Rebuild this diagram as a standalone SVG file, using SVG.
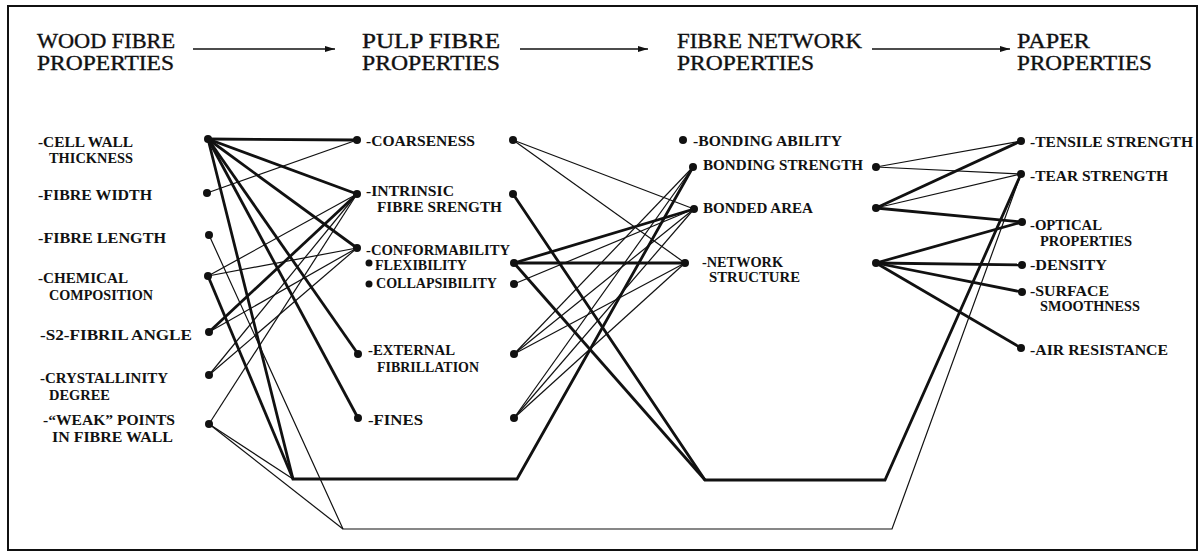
<svg xmlns="http://www.w3.org/2000/svg" width="1203" height="554" viewBox="0 0 1203 554">
  <defs>
    <style>
      .frame { fill: none; stroke: #111; stroke-width: 2; }
      .head { font-family: "Liberation Serif", "DejaVu Serif", serif; font-size: 20px; fill: #111; stroke: #111; stroke-width: 0.35; }
      .lbl { font-family: "Liberation Serif", "DejaVu Serif", serif; font-size: 14.5px; font-weight: bold; fill: #111; }
      .dot { fill: #111; }
      .thick { fill: none; stroke: #111; stroke-width: 2.8; stroke-linejoin: miter; }
      .thin { fill: none; stroke: #111; stroke-width: 1.2; }
      .flow { fill: none; stroke: #111; stroke-width: 1.5; }
    </style>
    <marker id="arrow" viewBox="0 0 10 6" refX="10" refY="3" markerWidth="10" markerHeight="6" markerUnits="userSpaceOnUse" orient="auto">
      <path d="M0,0 L10,3 L0,6 Z" fill="#111"/>
    </marker>
  </defs>

  <rect width="1203" height="554" fill="#fff"/>
  <rect class="frame" x="8" y="6" width="1189" height="544"/>

  <!-- column headings and the flow arrows between them -->
  <g id="headings">
    <text class="head" x="37" y="48" textLength="138" lengthAdjust="spacingAndGlyphs">WOOD FIBRE</text>
    <text class="head" x="37" y="70" textLength="137" lengthAdjust="spacingAndGlyphs">PROPERTIES</text>
    <text class="head" x="362" y="48" textLength="138" lengthAdjust="spacingAndGlyphs">PULP FIBRE</text>
    <text class="head" x="362" y="70" textLength="138" lengthAdjust="spacingAndGlyphs">PROPERTIES</text>
    <text class="head" x="677" y="48" textLength="185" lengthAdjust="spacingAndGlyphs">FIBRE NETWORK</text>
    <text class="head" x="677" y="70" textLength="137" lengthAdjust="spacingAndGlyphs">PROPERTIES</text>
    <text class="head" x="1017" y="48" textLength="73" lengthAdjust="spacingAndGlyphs">PAPER</text>
    <text class="head" x="1017" y="70" textLength="135" lengthAdjust="spacingAndGlyphs">PROPERTIES</text>
  </g>
  <g id="flow-arrows">
    <line class="flow" x1="193" y1="49" x2="335" y2="49" marker-end="url(#arrow)"/>
    <line class="flow" x1="520" y1="49" x2="648" y2="49" marker-end="url(#arrow)"/>
    <line class="flow" x1="872" y1="49" x2="1010" y2="49" marker-end="url(#arrow)"/>
  </g>

  <!-- connectors -->
  <g id="connectors">
    <!-- wood fibre -> pulp fibre -->
    <line class="thick" x1="208" y1="139" x2="357" y2="140"/>
    <line class="thick" x1="208" y1="139" x2="357" y2="194"/>
    <line class="thick" x1="208" y1="139" x2="357" y2="248"/>
    <line class="thick" x1="208" y1="139" x2="358" y2="354"/>
    <line class="thick" x1="208" y1="139" x2="358" y2="418"/>
    <line class="thick" x1="209" y1="332" x2="357" y2="194"/>
    <line class="thin" x1="207" y1="193" x2="357" y2="140"/>
    <line class="thin" x1="208" y1="276" x2="357" y2="194"/>
    <line class="thin" x1="208" y1="276" x2="357" y2="248"/>
    <line class="thin" x1="209" y1="332" x2="357" y2="248"/>
    <line class="thin" x1="209" y1="375" x2="357" y2="194"/>
    <line class="thin" x1="209" y1="375" x2="357" y2="248"/>
    <line class="thin" x1="209" y1="424" x2="357" y2="194"/>

    <!-- long routes along the bottom -->
    <polyline class="thick" points="208,139 293,479 517,479 693,167"/>
    <line class="thick" x1="208" y1="276" x2="293" y2="479"/>
    <line class="thin" x1="209" y1="424" x2="293" y2="479"/>
    <polyline class="thick" points="513,194 705,480 885,480 1021,174"/>
    <line class="thick" x1="514" y1="263" x2="705" y2="480"/>
    <polyline class="thin" points="209,235 343,529 892,529 1021,174"/>
    <line class="thin" x1="209" y1="424" x2="343" y2="529"/>

    <!-- pulp fibre -> fibre network -->
    <line class="thin" x1="513" y1="140" x2="694" y2="209"/>
    <line class="thin" x1="513" y1="140" x2="685" y2="263"/>
    <line class="thick" x1="514" y1="263" x2="694" y2="209"/>
    <line class="thick" x1="514" y1="263" x2="685" y2="263"/>
    <line class="thin" x1="514" y1="284" x2="694" y2="209"/>
    <line class="thin" x1="514" y1="354" x2="693" y2="167"/>
    <line class="thin" x1="514" y1="354" x2="694" y2="209"/>
    <line class="thin" x1="514" y1="354" x2="685" y2="263"/>
    <line class="thin" x1="514" y1="418" x2="693" y2="167"/>
    <line class="thin" x1="514" y1="418" x2="694" y2="209"/>
    <line class="thin" x1="514" y1="418" x2="685" y2="263"/>

    <!-- fibre network -> paper -->
    <line class="thin" x1="876" y1="167" x2="1021" y2="141"/>
    <line class="thin" x1="876" y1="167" x2="1021" y2="174"/>
    <line class="thick" x1="876" y1="208" x2="1021" y2="141"/>
    <line class="thin" x1="876" y1="208" x2="1021" y2="174"/>
    <line class="thick" x1="876" y1="208" x2="1022" y2="222"/>
    <line class="thick" x1="876" y1="263" x2="1022" y2="222"/>
    <line class="thick" x1="876" y1="263" x2="1022" y2="265"/>
    <line class="thick" x1="876" y1="263" x2="1022" y2="292"/>
    <line class="thick" x1="876" y1="263" x2="1021" y2="348"/>
  </g>

  <!-- wood fibre properties -->
  <g id="cell-wall-thickness">
    <circle class="dot" cx="208" cy="139" r="4"/>
    <text class="lbl" x="38" y="147" textLength="95" lengthAdjust="spacingAndGlyphs">-CELL WALL</text>
    <text class="lbl" x="49" y="163" textLength="84" lengthAdjust="spacingAndGlyphs">THICKNESS</text>
  </g>
  <g id="fibre-width">
    <circle class="dot" cx="207" cy="193" r="4"/>
    <text class="lbl" x="38" y="200" textLength="114" lengthAdjust="spacingAndGlyphs">-FIBRE WIDTH</text>
  </g>
  <g id="fibre-length">
    <circle class="dot" cx="209" cy="235" r="4"/>
    <text class="lbl" x="38" y="243" textLength="128" lengthAdjust="spacingAndGlyphs">-FIBRE LENGTH</text>
  </g>
  <g id="chemical-composition">
    <circle class="dot" cx="208" cy="276" r="4"/>
    <text class="lbl" x="38" y="283" textLength="90" lengthAdjust="spacingAndGlyphs">-CHEMICAL</text>
    <text class="lbl" x="49" y="300" textLength="104" lengthAdjust="spacingAndGlyphs">COMPOSITION</text>
  </g>
  <g id="s2-fibril-angle">
    <circle class="dot" cx="209" cy="332" r="4"/>
    <text class="lbl" x="40" y="340" textLength="152" lengthAdjust="spacingAndGlyphs">-S2-FIBRIL ANGLE</text>
  </g>
  <g id="crystallinity-degree">
    <circle class="dot" cx="209" cy="375" r="4"/>
    <text class="lbl" x="40" y="383" textLength="128" lengthAdjust="spacingAndGlyphs">-CRYSTALLINITY</text>
    <text class="lbl" x="49" y="400" textLength="61" lengthAdjust="spacingAndGlyphs">DEGREE</text>
  </g>
  <g id="weak-points">
    <circle class="dot" cx="209" cy="424" r="4"/>
    <text class="lbl" x="43" y="425" textLength="132" lengthAdjust="spacingAndGlyphs">-“WEAK” POINTS</text>
    <text class="lbl" x="52" y="442" textLength="121" lengthAdjust="spacingAndGlyphs">IN FIBRE WALL</text>
  </g>

  <!-- pulp fibre properties -->
  <g id="coarseness">
    <circle class="dot" cx="357" cy="140" r="4"/>
    <circle class="dot" cx="513" cy="140" r="4"/>
    <text class="lbl" x="366" y="146" textLength="109" lengthAdjust="spacingAndGlyphs">-COARSENESS</text>
  </g>
  <g id="intrinsic-fibre-strength">
    <circle class="dot" cx="357" cy="194" r="4"/>
    <circle class="dot" cx="513" cy="194" r="4"/>
    <text class="lbl" x="366" y="196" textLength="88" lengthAdjust="spacingAndGlyphs">-INTRINSIC</text>
    <text class="lbl" x="377" y="212" textLength="125" lengthAdjust="spacingAndGlyphs">FIBRE SRENGTH</text>
  </g>
  <g id="conformability">
    <circle class="dot" cx="357" cy="248" r="4"/>
    <text class="lbl" x="366" y="255" textLength="144" lengthAdjust="spacingAndGlyphs">-CONFORMABILITY</text>
  </g>
  <g id="flexibility">
    <circle class="dot" cx="369" cy="263" r="3.5"/>
    <circle class="dot" cx="514" cy="263" r="4"/>
    <text class="lbl" x="375" y="270" textLength="92" lengthAdjust="spacingAndGlyphs">FLEXIBILITY</text>
  </g>
  <g id="collapsibility">
    <circle class="dot" cx="369" cy="284" r="3.5"/>
    <circle class="dot" cx="514" cy="284" r="4"/>
    <text class="lbl" x="376" y="288" textLength="121" lengthAdjust="spacingAndGlyphs">COLLAPSIBILITY</text>
  </g>
  <g id="external-fibrillation">
    <circle class="dot" cx="358" cy="354" r="4"/>
    <circle class="dot" cx="514" cy="354" r="4"/>
    <text class="lbl" x="368" y="355" textLength="87" lengthAdjust="spacingAndGlyphs">-EXTERNAL</text>
    <text class="lbl" x="377" y="372" textLength="102" lengthAdjust="spacingAndGlyphs">FIBRILLATION</text>
  </g>
  <g id="fines">
    <circle class="dot" cx="358" cy="418" r="4"/>
    <circle class="dot" cx="514" cy="418" r="4"/>
    <text class="lbl" x="368" y="425" textLength="55" lengthAdjust="spacingAndGlyphs">-FINES</text>
  </g>

  <!-- fibre network properties -->
  <g id="bonding-ability">
    <circle class="dot" cx="683" cy="140" r="4"/>
    <text class="lbl" x="693" y="146" textLength="149" lengthAdjust="spacingAndGlyphs">-BONDING ABILITY</text>
  </g>
  <g id="bonding-strength">
    <circle class="dot" cx="693" cy="167" r="4"/>
    <circle class="dot" cx="876" cy="167" r="4"/>
    <text class="lbl" x="703" y="170" textLength="160" lengthAdjust="spacingAndGlyphs">BONDING STRENGTH</text>
  </g>
  <g id="bonded-area">
    <circle class="dot" cx="694" cy="209" r="4"/>
    <circle class="dot" cx="876" cy="208" r="4"/>
    <text class="lbl" x="703" y="213" textLength="110" lengthAdjust="spacingAndGlyphs">BONDED AREA</text>
  </g>
  <g id="network-structure">
    <circle class="dot" cx="685" cy="263" r="4"/>
    <circle class="dot" cx="876" cy="263" r="4"/>
    <text class="lbl" x="702" y="267" textLength="81" lengthAdjust="spacingAndGlyphs">-NETWORK</text>
    <text class="lbl" x="709" y="282" textLength="91" lengthAdjust="spacingAndGlyphs">STRUCTURE</text>
  </g>

  <!-- paper properties -->
  <g id="tensile-strength">
    <circle class="dot" cx="1021" cy="141" r="4"/>
    <text class="lbl" x="1030" y="147" textLength="163" lengthAdjust="spacingAndGlyphs">-TENSILE STRENGTH</text>
  </g>
  <g id="tear-strength">
    <circle class="dot" cx="1021" cy="174" r="4"/>
    <text class="lbl" x="1030" y="181" textLength="138" lengthAdjust="spacingAndGlyphs">-TEAR STRENGTH</text>
  </g>
  <g id="optical-properties">
    <circle class="dot" cx="1022" cy="222" r="4"/>
    <text class="lbl" x="1030" y="230" textLength="72" lengthAdjust="spacingAndGlyphs">-OPTICAL</text>
    <text class="lbl" x="1040" y="246" textLength="92" lengthAdjust="spacingAndGlyphs">PROPERTIES</text>
  </g>
  <g id="density">
    <circle class="dot" cx="1022" cy="265" r="4"/>
    <text class="lbl" x="1030" y="270" textLength="77" lengthAdjust="spacingAndGlyphs">-DENSITY</text>
  </g>
  <g id="surface-smoothness">
    <circle class="dot" cx="1022" cy="292" r="4"/>
    <text class="lbl" x="1030" y="296" textLength="79" lengthAdjust="spacingAndGlyphs">-SURFACE</text>
    <text class="lbl" x="1040" y="311" textLength="100" lengthAdjust="spacingAndGlyphs">SMOOTHNESS</text>
  </g>
  <g id="air-resistance">
    <circle class="dot" cx="1021" cy="348" r="4"/>
    <text class="lbl" x="1030" y="355" textLength="138" lengthAdjust="spacingAndGlyphs">-AIR RESISTANCE</text>
  </g>
</svg>
